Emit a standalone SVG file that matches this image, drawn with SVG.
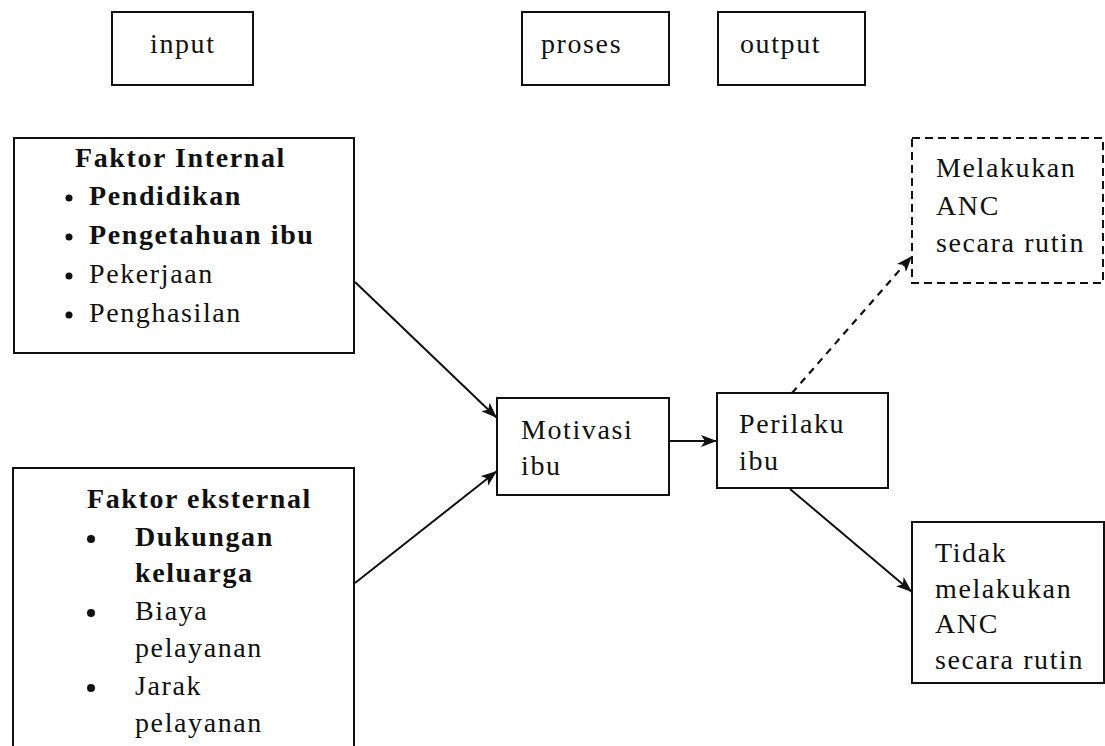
<svg xmlns="http://www.w3.org/2000/svg" width="1105" height="746" viewBox="0 0 1105 746">
  <defs>
    <style>
      .box { fill: #ffffff; stroke: #111111; stroke-width: 2; }
      .dbox { fill: #ffffff; stroke: #111111; stroke-width: 2; stroke-dasharray: 8 5; }
      .t { font-family: "Liberation Serif", "Times New Roman", serif; font-size: 28px; letter-spacing: 1.6px; fill: #111111; }
      .b { font-weight: bold; }
      .edge { fill: none; stroke: #111111; stroke-width: 2; }
      .dedge { fill: none; stroke: #111111; stroke-width: 2.2; stroke-dasharray: 7 6; }
    </style>
    <marker id="arrow" viewBox="0 0 16 12" refX="16" refY="6" markerWidth="16" markerHeight="12" markerUnits="userSpaceOnUse" orient="auto">
      <path d="M0,0 L16,6 L0,12 L4,6 Z" fill="#111111"/>
    </marker>
  </defs>
  <rect width="1105" height="746" fill="#ffffff"/>

  <g id="label-input">
    <rect class="box" x="112" y="12" width="141" height="73"/>
    <text class="t" x="150" y="53">input</text>
  </g>
  <g id="label-proses">
    <rect class="box" x="522" y="12" width="147" height="73"/>
    <text class="t" x="541" y="53">proses</text>
  </g>
  <g id="label-output">
    <rect class="box" x="718" y="12" width="147" height="73"/>
    <text class="t" x="740" y="53">output</text>
  </g>

  <g id="faktor-internal">
    <rect class="box" x="14" y="138" width="340" height="215"/>
    <text class="t b" x="75" y="167">Faktor Internal</text>
    <circle cx="69" cy="198" r="3.5" fill="#111"/>
    <text class="t b" x="89" y="205">Pendidikan</text>
    <circle cx="69" cy="237" r="3.5" fill="#111"/>
    <text class="t b" x="89" y="244">Pengetahuan ibu</text>
    <circle cx="69" cy="276" r="3.5" fill="#111"/>
    <text class="t" x="89" y="283">Pekerjaan</text>
    <circle cx="69" cy="315" r="3.5" fill="#111"/>
    <text class="t" x="89" y="322">Penghasilan</text>
  </g>

  <g id="faktor-eksternal">
    <path class="box" d="M13,748 L13,468 L354,468 L354,748"/>
    <text class="t b" x="87" y="508">Faktor eksternal</text>
    <circle cx="91" cy="539" r="4" fill="#111"/>
    <text class="t b" x="135" y="546">Dukungan</text>
    <text class="t b" x="135" y="582">keluarga</text>
    <circle cx="91" cy="613" r="4" fill="#111"/>
    <text class="t" x="135" y="620">Biaya</text>
    <text class="t" x="135" y="657">pelayanan</text>
    <circle cx="91" cy="688" r="4" fill="#111"/>
    <text class="t" x="135" y="695">Jarak</text>
    <text class="t" x="135" y="732">pelayanan</text>
  </g>

  <g id="motivasi">
    <rect class="box" x="497" y="398" width="172" height="97"/>
    <text class="t" x="521" y="439">Motivasi</text>
    <text class="t" x="521" y="475">ibu</text>
  </g>

  <g id="perilaku">
    <rect class="box" x="717" y="393" width="171" height="95"/>
    <text class="t" x="739" y="433">Perilaku</text>
    <text class="t" x="739" y="470">ibu</text>
  </g>

  <g id="melakukan">
    <rect class="dbox" x="912" y="138" width="191" height="145"/>
    <text class="t" x="936" y="177">Melakukan</text>
    <text class="t" x="936" y="215">ANC</text>
    <text class="t" x="936" y="252">secara rutin</text>
  </g>

  <g id="tidak-melakukan">
    <rect class="box" x="912" y="522" width="192" height="161"/>
    <text class="t" x="935" y="562">Tidak</text>
    <text class="t" x="935" y="598">melakukan</text>
    <text class="t" x="935" y="633">ANC</text>
    <text class="t" x="935" y="669">secara rutin</text>
  </g>

  <g id="connectors">
    <line class="edge" x1="355" y1="282" x2="497" y2="418" marker-end="url(#arrow)"/>
    <line class="edge" x1="355" y1="583" x2="497" y2="471" marker-end="url(#arrow)"/>
    <line class="edge" x1="669" y1="441" x2="717" y2="441" marker-end="url(#arrow)"/>
    <line class="dedge" x1="792" y1="393" x2="912" y2="256" marker-end="url(#arrow)"/>
    <line class="edge" x1="790" y1="489" x2="912" y2="592" marker-end="url(#arrow)"/>
  </g>
</svg>
